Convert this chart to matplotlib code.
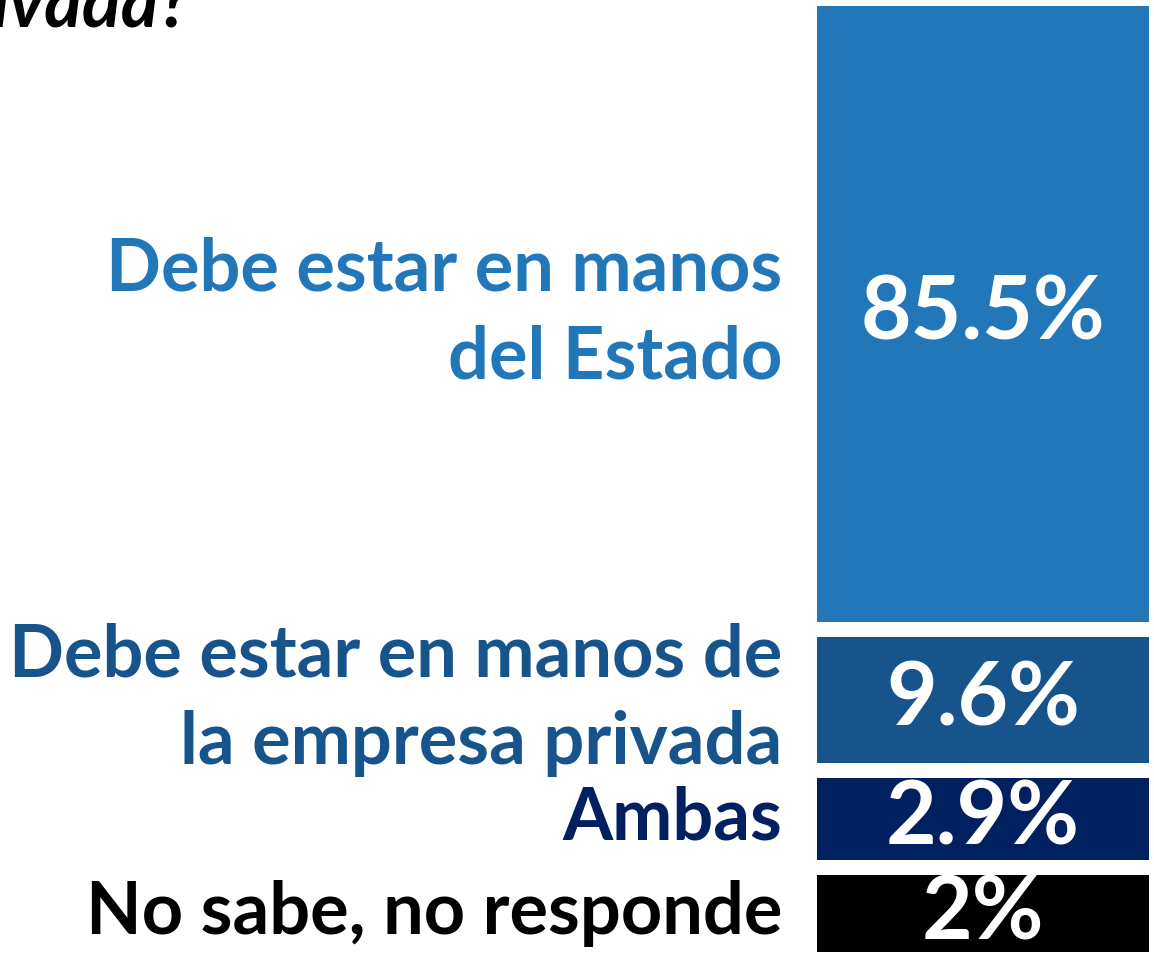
import matplotlib
matplotlib.use("Agg")
import matplotlib.pyplot as plt

# answers, top to bottom
labels = ["Debe estar en manos\ndel Estado",
          "Debe estar en manos de\nla empresa privada",
          "Ambas",
          "No sabe, no responde"]
values = [85.5, 9.6, 2.9, 2.0]
value_text = ["85.5%", "9.6%", "2.9%", "2%"]
colors = ["#2177B8", "#18548C", "#002060", "#000000"]

# every segment gets some extra room so the small ones can hold their number
pad = 9.9
gap = 2.3

plt.rcParams["font.family"] = ["Lato", "DejaVu Sans"]

fig = plt.figure(figsize=(11.54, 9.55), dpi=100)
ax = fig.add_axes([817 / 1154, 3 / 955, 332 / 1154, 946 / 955])

top = 0.0
for lab, v, txt, c in zip(labels, values, value_text, colors):
    h = v + pad
    ax.bar(0.5, h, width=1.0, bottom=top, color=c, linewidth=0)
    mid = top + h / 2
    ax.text(0.5, mid, txt, ha="center", va="center", color="white",
            fontsize=63, fontweight="bold")
    ax.text(-0.105, mid, lab, ha="right", va="center", color=c,
            fontsize=52, fontweight="bold", linespacing=1.38,
            transform=ax.get_yaxis_transform())
    top += h + gap

ax.set_xlim(0, 1)
ax.set_ylim(top - gap, 0)
ax.axis("off")

# title is cut off at the top edge of the picture
fig.text(-0.008, 0.972, "ivada?", ha="left", va="baseline", fontsize=52,
         fontweight="bold", fontstyle="italic", color="black")

fig.savefig("out.png", dpi=100, facecolor="white")
